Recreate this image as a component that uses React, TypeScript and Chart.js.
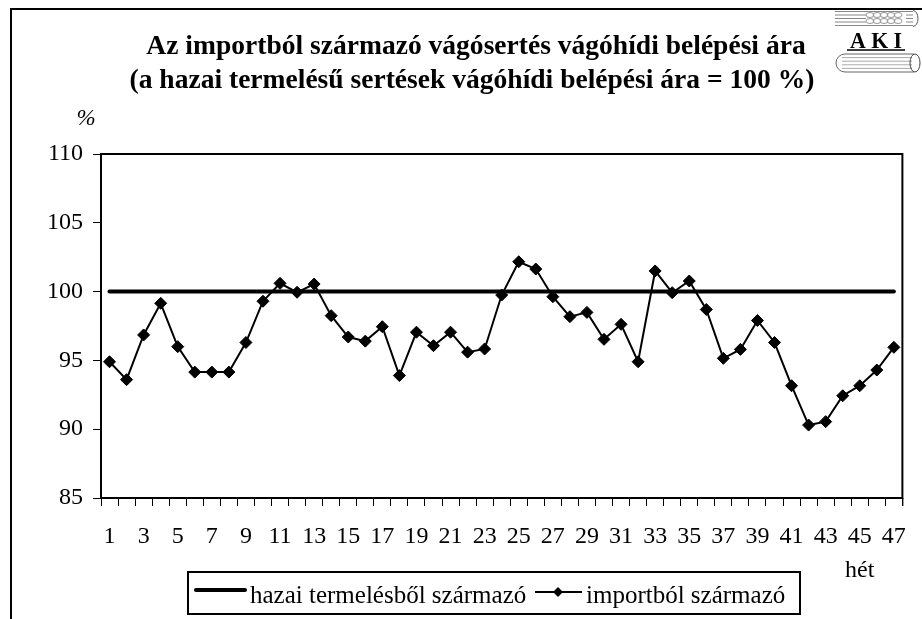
import React, { useEffect, useRef } from "react";
import { Chart, registerables } from "chart.js";

Chart.register(...registerables);

const weeks = [
  "1", "2", "3", "4", "5", "6", "7", "8", "9", "10",
  "11", "12", "13", "14", "15", "16", "17", "18", "19", "20",
  "21", "22", "23", "24", "25", "26", "27", "28", "29", "30",
  "31", "32", "33", "34", "35", "36", "37", "38", "39", "40",
  "41", "42", "43", "44", "45", "46", "47",
];

const importPrices = [
  94.9, 93.6, 96.85, 99.15, 96.0, 94.15, 94.15, 94.15, 96.3, 99.3,
  100.6, 99.95, 100.55, 98.25, 96.7, 96.4, 97.45, 93.9, 97.05, 96.07,
  97.05, 95.6, 95.83, 99.75, 102.17, 101.64, 99.63, 98.18, 98.49, 96.53,
  97.62, 94.9, 101.5, 99.92, 100.77, 98.7, 95.15, 95.8, 97.9, 96.3,
  93.16, 90.3, 90.55, 92.43, 93.16, 94.3, 95.95,
];

const domesticPrices = [
  100, 100, 100, 100, 100, 100, 100, 100, 100, 100,
  100, 100, 100, 100, 100, 100, 100, 100, 100, 100,
  100, 100, 100, 100, 100, 100, 100, 100, 100, 100,
  100, 100, 100, 100, 100, 100, 100, 100, 100, 100,
  100, 100, 100, 100, 100, 100, 100,
];

const yTicks = [85, 90, 95, 100, 105, 110];

const seriesNames = ["hazai termelésből származó", "importból származó"];
const titleLines = [
  "Az importból származó vágósertés vágóhídi belépési ára",
  "(a hazai termelésű sertések vágóhídi belépési ára = 100 %)",
];
const yUnit = "%";
const xUnit = "hét";
const logoText = "AKI";

const FONT = "'Liberation Serif', 'Times New Roman', serif";

function stretchedText(
  ctx: CanvasRenderingContext2D,
  text: string,
  x: number,
  y: number,
  font: string,
  sx: number,
  align: CanvasTextAlign
) {
  ctx.save();
  ctx.translate(x, y);
  ctx.scale(sx, 1);
  ctx.font = font;
  ctx.textAlign = align;
  ctx.textBaseline = "alphabetic";
  ctx.fillStyle = "#000";
  ctx.fillText(text, 0, 0);
  ctx.restore();
}

const decorPlugin = {
  id: "decor",
  afterDraw(chart: any) {
    const ctx: CanvasRenderingContext2D = chart.ctx;
    const { left, top, right, bottom } = chart.chartArea;
    ctx.save();
    ctx.strokeStyle = "#000";

    // plot frame
    ctx.lineWidth = 2;
    ctx.strokeRect(left, top, right - left, bottom - top);
    // last tick mark at right edge
    ctx.lineWidth = 1;
    ctx.beginPath();
    ctx.moveTo(right + 0.5, bottom);
    ctx.lineTo(right + 0.5, bottom + 8);
    ctx.stroke();

    // outer frame (left and top)
    ctx.lineWidth = 2;
    ctx.beginPath();
    ctx.moveTo(11, 619);
    ctx.lineTo(11, 9);
    ctx.lineTo(922, 9);
    ctx.stroke();

    // title
    stretchedText(ctx, titleLines[0], 476, 54, `bold 27px ${FONT}`, 1.02, "center");
    stretchedText(ctx, titleLines[1], 472, 88, `bold 27px ${FONT}`, 1.02, "center");

    // unit labels
    stretchedText(ctx, yUnit, 86, 125, `italic 23px ${FONT}`, 1.0, "center");
    stretchedText(ctx, xUnit, 845, 577, `24px ${FONT}`, 1.0, "left");

    // legend box
    ctx.lineWidth = 2;
    ctx.strokeRect(188, 572, 612, 42);
    const ly = 592;
    // domestic sample
    ctx.lineWidth = 4;
    ctx.lineCap = "round";
    ctx.beginPath();
    ctx.moveTo(196, ly - 2);
    ctx.lineTo(245, ly - 2);
    ctx.stroke();
    ctx.lineCap = "butt";
    stretchedText(ctx, chart.data.datasets[0].label, 250, 603, `25px ${FONT}`, 1.0, "left");
    // import sample
    ctx.lineWidth = 2;
    ctx.beginPath();
    ctx.moveTo(535, ly);
    ctx.lineTo(582, ly);
    ctx.stroke();
    ctx.fillStyle = "#000";
    ctx.beginPath();
    ctx.moveTo(558 - 5, ly);
    ctx.lineTo(558, ly - 5);
    ctx.lineTo(558 + 5, ly);
    ctx.lineTo(558, ly + 5);
    ctx.closePath();
    ctx.fill();
    stretchedText(ctx, chart.data.datasets[1].label, 586, 603, `25px ${FONT}`, 1.0, "left");

    // logo
    ctx.strokeStyle = "#888";
    ctx.lineWidth = 1;
    for (let i = 0; i < 5; i++) {
      const yy = 11.5 + i * 3.5;
      ctx.beginPath();
      ctx.moveTo(835, yy);
      ctx.lineTo(913, yy);
      ctx.stroke();
    }
    ctx.fillStyle = "#fff";
    ctx.fillRect(866, 12, 40, 12);
    ctx.strokeStyle = "#999";
    for (let i = 0; i < 5; i++) {
      ctx.beginPath();
      ctx.ellipse(870 + i * 7, 15, 4, 2.5, 0, 0, Math.PI * 2);
      ctx.stroke();
      ctx.beginPath();
      ctx.ellipse(870 + i * 7, 21, 4, 2.5, 0, 0, Math.PI * 2);
      ctx.stroke();
    }
    ctx.strokeStyle = "#555";
    ctx.beginPath();
    ctx.ellipse(913, 18.5, 5, 8, 0, -Math.PI / 2, Math.PI / 2);
    ctx.stroke();

    stretchedText(ctx, logoText.split("").join(" "), 876, 48, `bold 23px ${FONT}`, 0.95, "center");
    ctx.strokeStyle = "#000";
    ctx.lineWidth = 1.5;
    ctx.beginPath();
    ctx.moveTo(847, 50);
    ctx.lineTo(905, 50);
    ctx.stroke();

    // lower cylinder
    ctx.strokeStyle = "#666";
    ctx.lineWidth = 1;
    ctx.beginPath();
    ctx.moveTo(914, 54);
    ctx.lineTo(845, 54);
    ctx.arc(845, 63, 9, -Math.PI / 2, Math.PI / 2, true);
    ctx.lineTo(914, 72);
    ctx.stroke();
    ctx.strokeStyle = "#aaa";
    for (let i = 1; i < 5; i++) {
      const yy = 54 + i * 3.6;
      ctx.beginPath();
      ctx.moveTo(842, yy);
      ctx.lineTo(912, yy);
      ctx.stroke();
    }
    ctx.strokeStyle = "#444";
    ctx.beginPath();
    ctx.ellipse(915, 63, 5, 9, 0, 0, Math.PI * 2);
    ctx.stroke();

    ctx.restore();
  },
};

export default function App() {
  const canvasRef = useRef<HTMLCanvasElement | null>(null);

  useEffect(() => {
    if (!canvasRef.current) return;
    const chart = new Chart(canvasRef.current, {
      type: "line",
      data: {
        labels: weeks,
        datasets: [
          {
            label: seriesNames[0],
            data: domesticPrices,
            borderColor: "#000",
            borderWidth: 4,
            borderCapStyle: "round",
            pointRadius: 0,
            pointHoverRadius: 0,
            fill: false,
          },
          {
            label: seriesNames[1],
            data: importPrices,
            borderColor: "#000",
            backgroundColor: "#000",
            borderWidth: 2,
            pointStyle: "rectRot",
            pointRadius: 6,
            pointBorderWidth: 1,
            pointBackgroundColor: "#000",
            pointBorderColor: "#000",
            fill: false,
          },
        ],
      },
      options: {
        responsive: false,
        animation: false,
        devicePixelRatio: 1,
        layout: { padding: { top: 154, left: 0, right: 13, bottom: 61 } },
        plugins: {
          legend: { display: false },
          title: { display: false },
          tooltip: { enabled: false },
        },
        scales: {
          x: {
            type: "category",
            offset: true,
            afterFit: (scale: any) => {
              scale.height = 60;
            },
            grid: {
              display: true,
              offset: true,
              drawOnChartArea: false,
              drawTicks: true,
              tickLength: 8,
              color: "#000",
              lineWidth: 1,
            },
            border: { display: true, color: "#000", width: 2 },
            ticks: {
              autoSkip: false,
              maxRotation: 0,
              minRotation: 0,
              padding: 16,
              color: "#000",
              font: { family: FONT, size: 24 },
              callback: (_v: any, index: number) => (index % 2 === 0 ? weeks[index] : ""),
            },
          },
          y: {
            min: yTicks[0],
            max: yTicks[yTicks.length - 1],
            afterFit: (scale: any) => {
              scale.width = 101;
            },
            afterBuildTicks: (scale: any) => {
              scale.ticks = yTicks.map((v) => ({ value: v }));
            },
            grid: {
              display: true,
              drawOnChartArea: false,
              drawTicks: true,
              tickLength: 8,
              color: "#000",
              lineWidth: 1,
            },
            border: { display: true, color: "#000", width: 2 },
            ticks: {
              padding: 10,
              color: "#000",
              font: { family: FONT, size: 24 },
            },
          },
        },
      },
      plugins: [decorPlugin],
    });
    return () => chart.destroy();
  }, []);

  return (
    <div
      style={{
        position: "fixed",
        left: 0,
        top: 0,
        width: 922,
        height: 619,
        background: "#fff",
      }}
    >
      <canvas ref={canvasRef} width={922} height={619} />
    </div>
  );
}
